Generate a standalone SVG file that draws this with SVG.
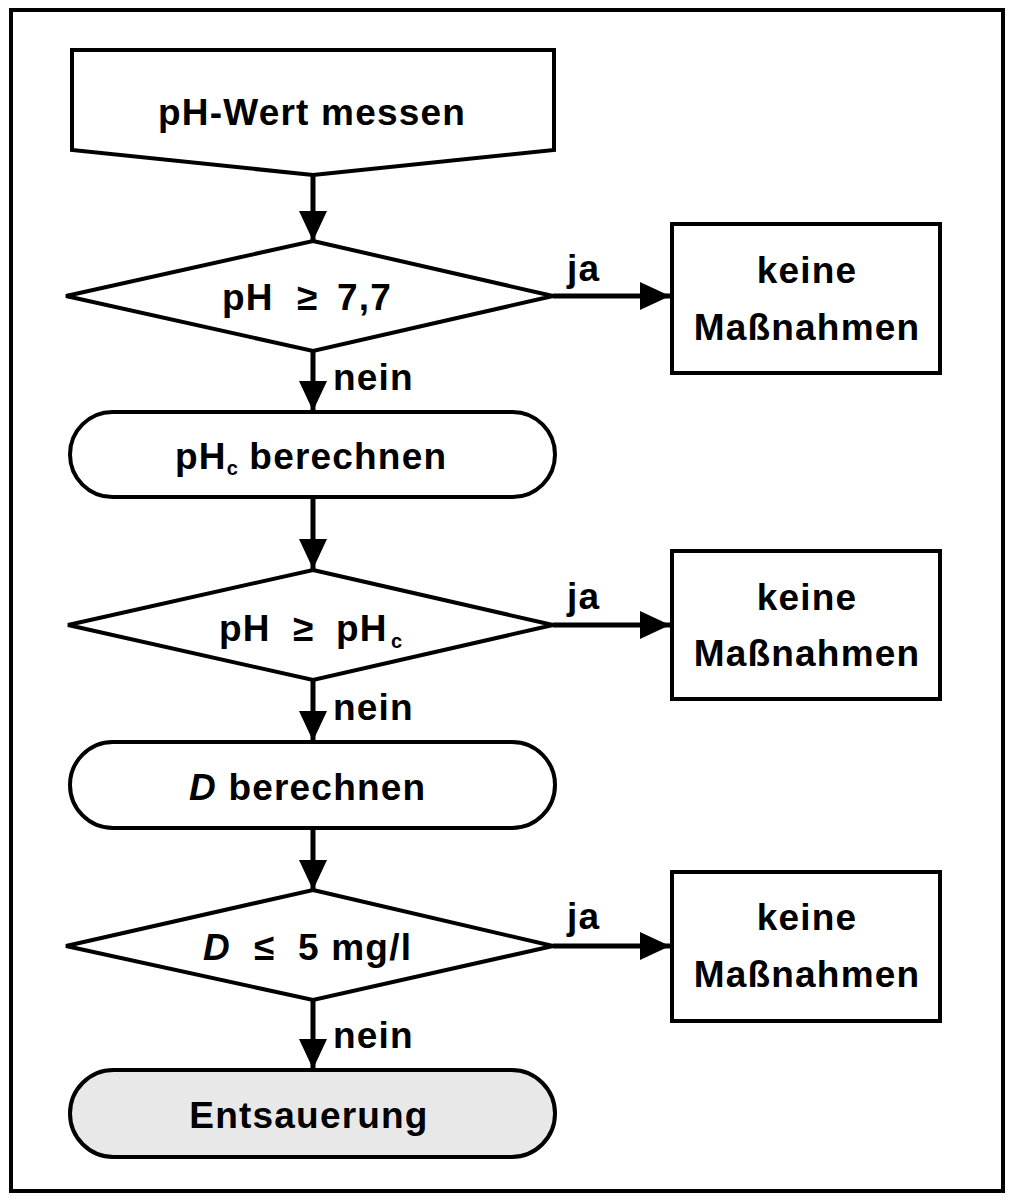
<svg xmlns="http://www.w3.org/2000/svg" width="1012" height="1201" viewBox="0 0 1012 1201">
<style>
.s{fill:#fff;stroke:#000;stroke-width:4;stroke-linejoin:miter}
.t{font-family:"Liberation Sans",Arial,sans-serif;font-weight:bold;font-size:37px;letter-spacing:1.2px;fill:#000}
.m{text-anchor:middle}
.sub{font-size:20px;letter-spacing:0}
.c{fill:none;stroke:#000;stroke-width:5}
</style>
<defs>
<marker id="ah" markerUnits="userSpaceOnUse" markerWidth="30" markerHeight="30" viewBox="0 0 30 30" refX="30" refY="15" orient="auto">
<path d="M0,1 L30,15 L0,29 Z" fill="#000"/>
</marker>
</defs>
<rect x="11" y="10" width="992" height="1181" fill="#fff" stroke="#000" stroke-width="4"/>
<g id="connectors">
<path class="c" d="M313,175 V241" marker-end="url(#ah)"/>
<path class="c" d="M553,296 H670" marker-end="url(#ah)"/>
<path class="c" d="M313,351 V411" marker-end="url(#ah)"/>
<path class="c" d="M313,498 V569" marker-end="url(#ah)"/>
<path class="c" d="M553,625 H670" marker-end="url(#ah)"/>
<path class="c" d="M313,680 V741" marker-end="url(#ah)"/>
<path class="c" d="M313,829 V890" marker-end="url(#ah)"/>
<path class="c" d="M553,946 H670" marker-end="url(#ah)"/>
<path class="c" d="M313,1000 V1069" marker-end="url(#ah)"/>
<text class="t" x="567" y="281">ja</text>
<text class="t" x="567" y="609">ja</text>
<text class="t" x="567" y="929">ja</text>
<text class="t" x="333" y="390">nein</text>
<text class="t" x="333" y="720">nein</text>
<text class="t" x="333" y="1048">nein</text>
</g>
<g id="start">
<path class="s" d="M72,50 H554 V150 L313,175 L72,150 Z"/>
<text class="t m" x="312" y="125">pH-Wert messen</text>
</g>
<g id="dec1">
<path class="s" d="M313,241 L553,296 L313,351 L66,296 Z"/>
<text class="t"><tspan x="222" y="310">pH</tspan><tspan x="297" y="310">≥</tspan><tspan x="337" y="310">7,7</tspan></text>
</g>
<g id="box1">
<rect class="s" x="672" y="224" width="268" height="149"/>
<text class="t m" x="807" y="283">keine</text>
<text class="t m" x="807" y="340">Maßnahmen</text>
</g>
<g id="calc1">
<rect class="s" x="70" y="412" width="485" height="85" rx="42.5"/>
<text class="t" x="175" y="469">pH<tspan class="sub" dy="6">c</tspan><tspan dy="-6"> berechnen</tspan></text>
</g>
<g id="dec2">
<path class="s" d="M313,570 L553,625 L313,680 L68,625 Z"/>
<text class="t"><tspan x="219" y="641">pH</tspan><tspan x="293" y="641">≥</tspan><tspan x="336" y="641">pH</tspan><tspan class="sub" x="391" y="648">c</tspan></text>
</g>
<g id="box2">
<rect class="s" x="672" y="551" width="268" height="148"/>
<text class="t m" x="807" y="610">keine</text>
<text class="t m" x="807" y="666">Maßnahmen</text>
</g>
<g id="calc2">
<rect class="s" x="70" y="742" width="485" height="86" rx="43"/>
<text class="t" x="189" y="800"><tspan font-style="italic">D</tspan> berechnen</text>
</g>
<g id="dec3">
<path class="s" d="M313,890 L553,946 L313,1000 L66,946 Z"/>
<text class="t"><tspan x="203" y="960" font-style="italic">D</tspan><tspan x="254" y="960">≤</tspan><tspan x="298" y="960">5 mg/l</tspan></text>
</g>
<g id="box3">
<rect class="s" x="672" y="872" width="268" height="149"/>
<text class="t m" x="807" y="930">keine</text>
<text class="t m" x="807" y="987">Maßnahmen</text>
</g>
<g id="end">
<rect x="70" y="1070" width="485" height="87" rx="43.5" fill="#e8e8e8" stroke="#000" stroke-width="4"/>
<text class="t m" x="309" y="1128">Entsauerung</text>
</g>
</svg>
